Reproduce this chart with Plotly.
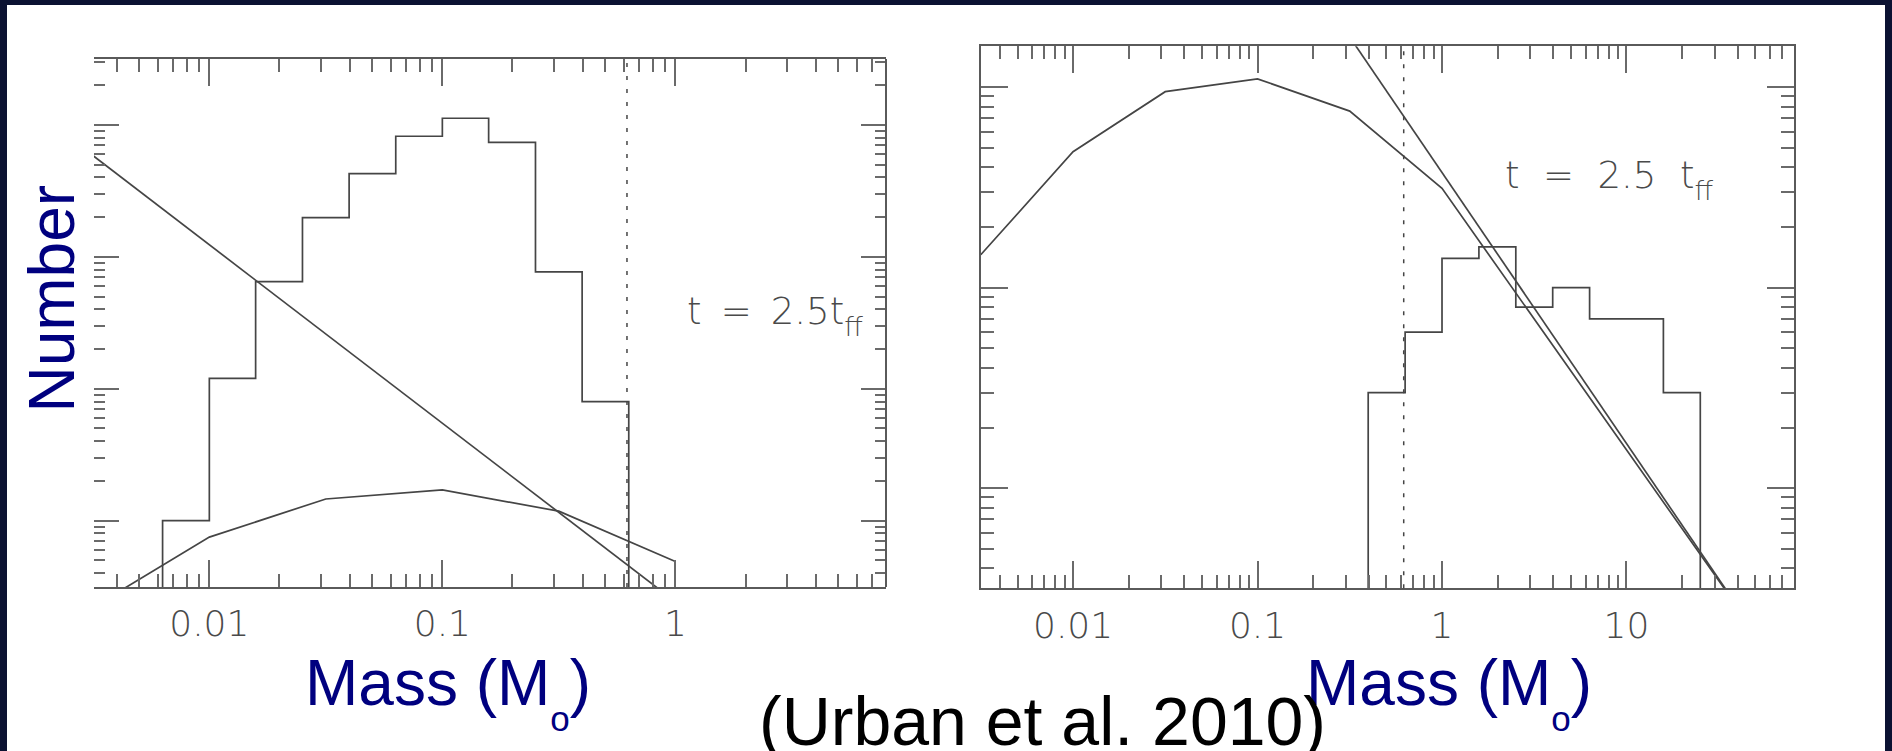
import plotly.graph_objects as go

W, H = 1892, 751

# ---------------- data ----------------
# Left panel: histogram of sink masses (bin edges in M_sun, counts)
left_edges = [0.0063, 0.01, 0.0158, 0.0251, 0.0398, 0.0631, 0.1, 0.158, 0.251, 0.398, 0.631]
left_counts = [1, 12, 65, 198, 428, 821, 1124, 739, 77, 8]
# Left panel: log-normal IMF curve
left_curve_m = [0.00316, 0.01, 0.0316, 0.1, 0.316, 1.0]
left_curve_n = [0.22, 0.75, 1.46, 1.71, 1.18, 0.49]
# Left panel: Salpeter-slope line (end points)
left_line_m = [0.003, 1.0]
left_line_n = [630, 0.243]

# Right panel: histogram
right_edges = [0.398, 0.631, 1.0, 1.585, 2.512, 3.981, 6.31, 10.0, 15.85, 25.12]
right_counts = [3, 6, 14, 16, 8, 10, 7, 7, 3]
# Right panel: Chabrier-like IMF curve
right_curve_m = [0.00316, 0.01, 0.0316, 0.1, 0.316, 1.0, 40.0]
right_curve_n = [14.6, 47.7, 95, 110, 76, 31.3, 0.255]
# Right panel: Salpeter line
right_line_m = [0.3, 50.0]
right_line_n = [191, 0.19]

mass_limit = 0.62   # dotted vertical line (both panels)
empty_level = 0.1   # below the axis floor: histogram starts/ends at zero

x_ticks_left = [0.01, 0.1, 1]
x_labels_left = ["0.01", "0.1", "1"]
x_ticks_right = [0.01, 0.1, 1, 10]
x_labels_right = ["0.01", "0.1", "1", "10"]
y_ticks_left = [1, 10, 100, 1000]
y_ticks_right = [1, 10, 100]

SUB_FF = "<span style='font-size:27px;baseline-shift:-12px'>ff</span>"
annot_left = "t\u00a0\u2009=\u00a0\u20092.5t" + SUB_FF
annot_right = "t\u00a0\u00a0=\u00a0\u00a02.5\u00a0\u00a0t" + SUB_FF
ylabel = "Number"
xlabel = "Mass (M<span style='font-size:35px;baseline-shift:-26px'>o</span>)"
citation = "(Urban et al. 2010)"

# ---------------- styling ----------------
LINE = "#454545"
FRAME = "#5a5a5a"
TICK = "#6a6a6a"
NAVY = "#00007f"
TICKFONT = dict(family="DejaVu Sans", size=36, color="#4a4a4a", weight=200)


def px_x(p):
    return p / W


def px_y(p):
    return 1 - p / H


def minor_vals(lo, hi):
    return [k * 10 ** d for d in range(lo, hi) for k in range(2, 10)]


def hist_path(edges, counts):
    xs = [edges[0]] + edges[:-1] + [edges[-1]]
    ys = [empty_level] + counts + [empty_level]
    return xs, ys


fig = go.Figure()

line_style = dict(color=LINE, width=1.7)

# left panel
hx, hy = hist_path(left_edges, left_counts)
fig.add_trace(go.Scatter(x=hx, y=hy, mode="lines", line=dict(shape="hv", **line_style),
                         xaxis="x", yaxis="y", showlegend=False))
fig.add_trace(go.Scatter(x=left_curve_m, y=left_curve_n, mode="lines", line=line_style,
                         xaxis="x", yaxis="y", showlegend=False))
fig.add_trace(go.Scatter(x=left_line_m, y=left_line_n, mode="lines", line=line_style,
                         xaxis="x", yaxis="y", showlegend=False))

# right panel
hx, hy = hist_path(right_edges, right_counts)
fig.add_trace(go.Scatter(x=hx, y=hy, mode="lines", line=dict(shape="hv", **line_style),
                         xaxis="x2", yaxis="y2", showlegend=False))
fig.add_trace(go.Scatter(x=right_curve_m, y=right_curve_n, mode="lines", line=line_style,
                         xaxis="x2", yaxis="y2", showlegend=False))
fig.add_trace(go.Scatter(x=right_line_m, y=right_line_n, mode="lines", line=line_style,
                         xaxis="x2", yaxis="y2", showlegend=False))

xcommon = dict(type="log", showgrid=False, zeroline=False, ticks="inside",
               ticklen=27, tickwidth=2, tickcolor=TICK, showline=True, linecolor=FRAME,
               linewidth=2, mirror="ticks", tickfont=TICKFONT, ticklabelstandoff=4,
               minor=dict(ticks="inside", ticklen=13, tickwidth=2, tickcolor=TICK, showgrid=False))

fig.update_layout(
    width=W, height=H, autosize=False,
    margin=dict(l=0, r=0, t=0, b=0, pad=0),
    paper_bgcolor="#0b1232", plot_bgcolor="white",
    xaxis=dict(domain=[px_x(94), px_x(886)], range=[-2.495, 0.904], anchor="y",
               tickvals=x_ticks_left, ticktext=x_labels_left,
               **{**xcommon, "minor": {**xcommon["minor"], "tickvals": minor_vals(-3, 1)}}),
    yaxis=dict(domain=[px_y(587), px_y(59)], range=[-0.503, 3.5], anchor="x",
               type="log", showgrid=False, zeroline=False, ticks="inside",
               ticklen=25, tickwidth=2, tickcolor=TICK, showline=False, mirror="ticks",
               tickvals=y_ticks_left, showticklabels=False,
               minor=dict(ticks="inside", ticklen=11, tickwidth=2, tickcolor=TICK,
                          showgrid=False, tickvals=minor_vals(-1, 4))),
    xaxis2=dict(domain=[px_x(981), px_x(1794)], range=[-2.499, 1.908], anchor="y2",
                tickvals=x_ticks_right, ticktext=x_labels_right,
                **{**xcommon, "minor": {**xcommon["minor"], "tickvals": minor_vals(-3, 2)}}),
    yaxis2=dict(domain=[px_y(588.3), px_y(46.3)], range=[-0.499, 2.204], anchor="x2",
                type="log", showgrid=False, zeroline=False, ticks="inside",
                ticklen=27, tickwidth=2, tickcolor=TICK, showline=True, linecolor=FRAME,
                linewidth=2, mirror="ticks", tickvals=y_ticks_right, showticklabels=False,
                minor=dict(ticks="inside", ticklen=13, tickwidth=2, tickcolor=TICK,
                           showgrid=False, tickvals=minor_vals(-1, 3))),
)

shapes = [
    # white slide area
    dict(type="rect", xref="paper", yref="paper", x0=px_x(7), x1=px_x(1885),
         y0=0, y1=px_y(5), fillcolor="white", line=dict(width=0), layer="below"),
    # right frame edge of the left panel
    dict(type="line", xref="x domain", yref="y domain", x0=1, x1=1, y0=0, y1=1,
         line=dict(color=FRAME, width=2)),
    # dotted mass-limit lines
    dict(type="line", xref="x", yref="y domain", x0=mass_limit, x1=mass_limit, y0=0, y1=1,
         line=dict(color=LINE, width=1.5, dash="4px,9px")),
    dict(type="line", xref="x2", yref="y2 domain", x0=mass_limit, x1=mass_limit, y0=0, y1=1,
         line=dict(color=LINE, width=1.5, dash="4px,9px")),
]
fig.update_layout(shapes=shapes)

ann_font = dict(family="DejaVu Sans", size=37, color="#4a4a4a", weight=200)
label_font = dict(family="Liberation Sans", size=64, color=NAVY)
annotations = [
    dict(text=annot_left, x=px_x(775), y=px_y(316), xref="paper", yref="paper",
         showarrow=False, font=ann_font, xanchor="center", yanchor="middle"),
    dict(text=annot_right, x=px_x(1609), y=px_y(180), xref="paper", yref="paper",
         showarrow=False, font=ann_font, xanchor="center", yanchor="middle"),
    dict(text=ylabel, x=px_x(51.5), y=px_y(299), xref="paper", yref="paper", textangle=-90,
         showarrow=False, font=label_font, xanchor="center", yanchor="middle"),
    dict(text=xlabel, x=px_x(448), y=px_y(692), xref="paper", yref="paper",
         showarrow=False, font=label_font, xanchor="center", yanchor="middle"),
    dict(text=xlabel, x=px_x(1449), y=px_y(692), xref="paper", yref="paper",
         showarrow=False, font=label_font, xanchor="center", yanchor="middle"),
    dict(text=citation, x=px_x(1042), y=px_y(721), xref="paper", yref="paper",
         showarrow=False, font=dict(family="Liberation Sans", size=68, color="black"),
         xanchor="center", yanchor="middle"),
]
fig.update_layout(annotations=annotations)

fig.write_html("out.html")
